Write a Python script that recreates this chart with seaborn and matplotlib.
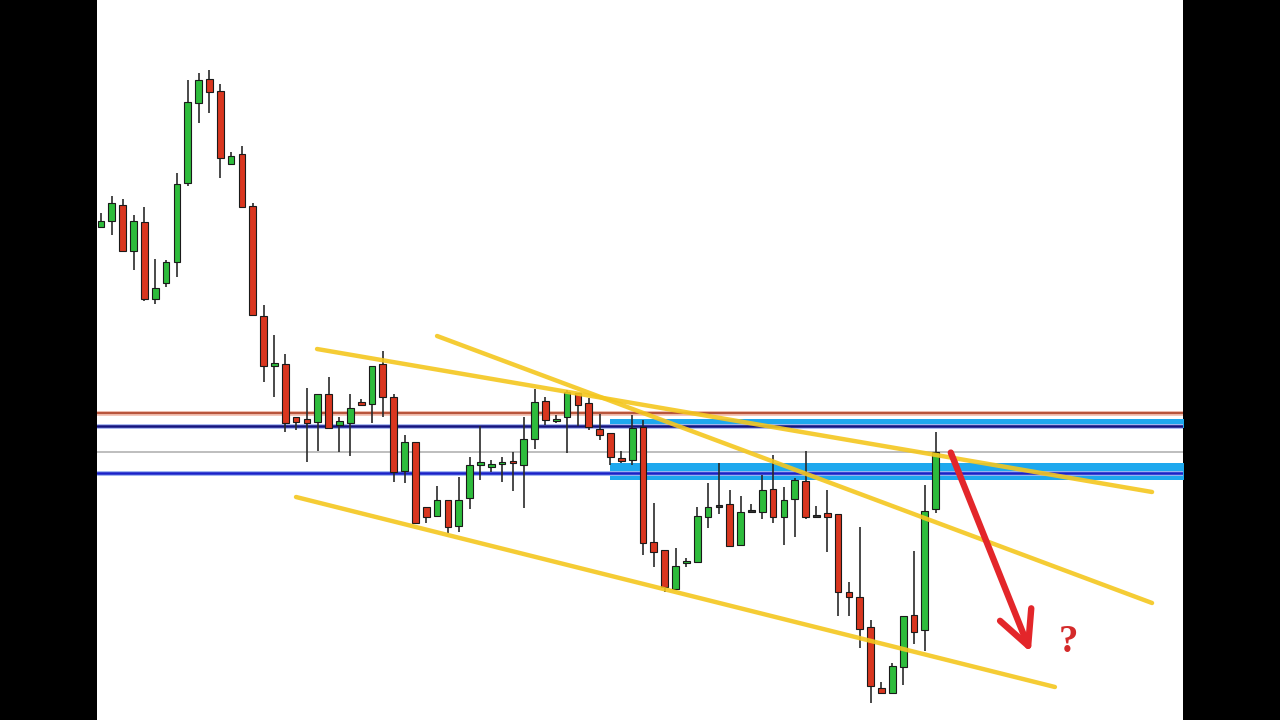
import matplotlib
matplotlib.use("Agg")
import matplotlib.pyplot as plt
import seaborn as sns
import numpy as np
import pandas as pd

# ---- candle data (screen-level units, larger = lower on chart) ----
body_top = [221, 203, 205, 221, 222, 288, 262, 184, 102, 80, 79, 91, 156, 154, 206,
            316, 363, 364, 417, 419, 394, 394, 421, 408, 402, 366, 364, 397, 442, 442,
            507, 500, 500, 500, 465, 462, 464, 462, 461, 439, 402, 401, 419, 392, 393,
            403, 429, 433, 458, 428, 427, 542, 550, 566, 561, 516, 507, 505, 504, 512,
            510, 490, 489, 500, 480, 481, 515, 513, 514, 592, 597, 627, 688, 666, 616,
            615, 511, 452]
body_bot = [227, 221, 251, 251, 299, 299, 283, 262, 183, 103, 92, 158, 164, 207, 315,
            366, 366, 423, 422, 423, 422, 428, 425, 423, 405, 404, 397, 472, 471, 523,
            517, 516, 527, 526, 498, 465, 467, 464, 463, 465, 439, 420, 421, 417, 405,
            427, 435, 457, 461, 460, 543, 552, 587, 589, 563, 562, 517, 507, 546, 545,
            512, 512, 517, 517, 499, 517, 517, 517, 592, 597, 629, 686, 693, 693, 667,
            632, 630, 509]
wick_top = [213, 196, 199, 215, 207, 259, 260, 173, 80, 73, 70, 84, 152, 146, 203,
            305, 335, 354, 417, 388, 394, 377, 417, 394, 399, 366, 351, 394, 435, 442,
            507, 486, 500, 477, 457, 426, 460, 457, 452, 417, 389, 397, 415, 390, 393,
            398, 414, 433, 451, 415, 420, 503, 550, 548, 558, 507, 483, 463, 490, 496,
            504, 475, 455, 487, 478, 451, 506, 490, 514, 582, 527, 620, 682, 663, 616,
            551, 485, 432]
wick_bot = [228, 235, 251, 270, 301, 304, 287, 277, 186, 123, 113, 178, 164, 207, 316,
            382, 397, 432, 430, 462, 451, 428, 452, 456, 405, 423, 417, 482, 483, 523,
            523, 516, 533, 532, 509, 480, 472, 482, 491, 508, 449, 425, 423, 453, 426,
            430, 440, 465, 463, 465, 555, 567, 592, 589, 567, 563, 528, 514, 547, 545,
            513, 519, 523, 545, 537, 519, 517, 552, 616, 616, 648, 703, 693, 693, 685,
            644, 651, 513]
direction = list("GGRGRGGGGGRRGRR" "RGRRRGRGGRGRRGR" "RGRGGGGGRGGRGGR"
                 "RRRRGRRRGGGGDRGD" "GRGGRDRRRRRRGGRGG")

# horizontal levels
level_brown = 413
level_navy = 426
level_gray = 452
level_blue = 473
zone_upper = (419, 428)
zone_lower = (463, 480)
zone_start = 46.96

# trend lines (candle-index, level)
trend1_x = [19.93, 96.96]; trend1_y = [349, 492]
trend2_x = [31.0, 96.96];  trend2_y = [336, 603]
trend3_x = [17.99, 88.0];  trend3_y = [497, 687]

arrow_start = (78.3, 450)
arrow_end = (85.87, 655)
question_pos = (89.25, 643)

# ---------------------------------------------------------------
sns.set_theme(style="white")
fig = plt.figure(figsize=(12.8, 7.2), dpi=100, facecolor="black")
ax = fig.add_axes([97 / 1280, 0, 1086 / 1280, 1])
ax.set_facecolor("white")

n = len(body_top)
idx = np.arange(n)
colors = {"G": "#2ebc3c", "R": "#d9361f", "D": "#333333"}

# zones
for lo, hi in (zone_upper, zone_lower):
    ax.fill_between([zone_start, 110], lo, hi, color="#1ea8ee", zorder=1, lw=0)

# horizontal lines
ax.axhline(level_brown, color="#f4c4b6", lw=3.5, zorder=1.5)
ax.axhline(level_brown, color="#b8553c", lw=1.6, zorder=1.6)
ax.axhline(level_navy, color="#a8b8f0", lw=3.5, zorder=1.5)
ax.axhline(level_navy, color="#141480", lw=1.8, zorder=1.6)
ax.axhline(level_gray, color="#b9b9b9", lw=1.3, zorder=1.5)
ax.axhline(level_blue, color="#9fb4f0", lw=3.5, zorder=1.5)
ax.axhline(level_blue, color="#1a22c8", lw=1.8, zorder=1.6)

# wicks
ax.vlines(idx, wick_top, wick_bot, color="#2a2a2a", lw=1.2, zorder=2)
# bodies
bh = np.array(body_bot) - np.array(body_top)
bh = np.maximum(bh, 2)
ax.bar(idx, bh, bottom=body_top, width=0.62,
       color=[colors[d] for d in direction], edgecolor="#1a1a1a", lw=0.8, zorder=3)

# trend lines
for tx, ty in ((trend1_x, trend1_y), (trend2_x, trend2_y), (trend3_x, trend3_y)):
    sns.lineplot(x=tx, y=ty, ax=ax, color="#f4c71f", lw=3.2, zorder=4,
                 solid_capstyle="round", alpha=0.9)

# arrow
ax.annotate("", xy=arrow_end, xytext=arrow_start,
            arrowprops=dict(arrowstyle="->,head_length=1.1,head_width=0.55",
                            color="#e3262a", lw=4.6, mutation_scale=22,
                            capstyle="round", joinstyle="round"),
            zorder=5)
ax.text(question_pos[0], question_pos[1], "?", color="#d42a2a",
        fontsize=28, fontweight="bold", family=["Liberation Serif", "DejaVu Serif"],
        ha="center", va="center", zorder=5)

left = (97 - 101) / 10.84
right = (1183 - 101) / 10.84
ax.set_xlim(left, right)
ax.set_ylim(720, 0)
ax.set_xticks([]); ax.set_yticks([])
for s in ax.spines.values():
    s.set_visible(False)

fig.savefig("out.png", dpi=100, facecolor="black")
